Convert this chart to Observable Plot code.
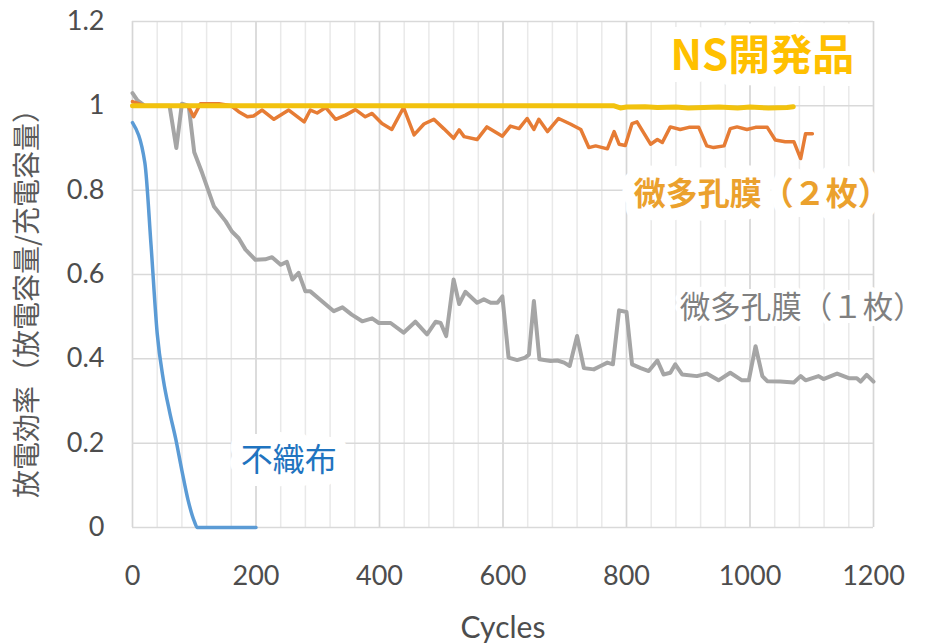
<!DOCTYPE html>
<html><head><meta charset="utf-8">
<script src="https://cdn.jsdelivr.net/npm/d3@7"></script>
<script src="https://cdn.jsdelivr.net/npm/@observablehq/plot@0.6"></script>
<style>body{margin:0;background:#fff}</style>
</head><body><div id="chart"></div>
<script>
// ---- data ----
const xTicks = [0, 200, 400, 600, 800, 1000, 1200];
const xMinorGrid = [0, 40, 80, 120, 160, 200, 240, 280, 320, 360, 400, 440, 480, 520, 560, 600, 640, 680, 720, 760, 800, 840, 880, 920, 960, 1000, 1040, 1080, 1120, 1160, 1200];
const yTicks = [0, 0.2, 0.4, 0.6, 0.8, 1, 1.2];

// 不織布
const nonwovenCycles = [0, 20, 30, 40, 50, 60, 70, 80, 90, 100, 105, 120, 140, 160, 180, 200];
const nonwovenValues = [0.96, 0.865, 0.67, 0.46, 0.35, 0.275, 0.21, 0.135, 0.065, 0.015, 0, 0, 0, 0, 0, 0];

// 微多孔膜（１枚）
const singleCycles = [0, 8, 20, 40, 60, 71, 80, 91, 100, 113, 132, 151, 161, 172, 183, 199, 215, 226, 240, 250, 259, 269, 280, 288, 304, 326, 340, 355, 372, 388, 399, 418, 439, 458, 477, 491, 499, 508, 520, 529, 539, 558, 569, 580, 591, 599, 609, 623, 636, 642, 650, 659, 677, 688, 699, 708, 720, 731, 747, 758, 769, 778, 788, 800, 809, 823, 836, 850, 860, 871, 879, 890, 914, 930, 949, 968, 987, 998, 1009, 1020, 1028, 1049, 1071, 1082, 1090, 1111, 1119, 1141, 1160, 1173, 1179, 1189, 1200];
const singleValues = [1.03, 1.013, 1.0, 1.0, 1.0, 0.90, 1.005, 1.0, 0.89, 0.84, 0.761, 0.726, 0.702, 0.686, 0.659, 0.635, 0.636, 0.641, 0.623, 0.63, 0.588, 0.604, 0.56, 0.56, 0.54, 0.513, 0.522, 0.505, 0.489, 0.496, 0.485, 0.485, 0.462, 0.488, 0.458, 0.488, 0.485, 0.454, 0.588, 0.53, 0.559, 0.533, 0.541, 0.533, 0.533, 0.548, 0.403, 0.397, 0.403, 0.41, 0.537, 0.399, 0.395, 0.396, 0.391, 0.383, 0.454, 0.378, 0.375, 0.383, 0.391, 0.387, 0.515, 0.511, 0.387, 0.378, 0.371, 0.396, 0.363, 0.367, 0.387, 0.363, 0.359, 0.365, 0.349, 0.367, 0.349, 0.349, 0.43, 0.359, 0.347, 0.346, 0.344, 0.359, 0.349, 0.359, 0.352, 0.365, 0.354, 0.354, 0.346, 0.362, 0.346];

// 微多孔膜（２枚）
const doubleCycles = [0, 10, 20, 40, 60, 80, 90, 99, 110, 140, 160, 172, 186, 196, 210, 229, 253, 278, 288, 299, 313, 329, 345, 361, 377, 388, 404, 420, 439, 456, 472, 488, 504, 520, 529, 537, 558, 574, 599, 612, 626, 639, 650, 658, 672, 690, 709, 726, 739, 750, 769, 780, 788, 798, 809, 817, 839, 850, 858, 871, 887, 901, 917, 930, 941, 958, 968, 979, 995, 1009, 1028, 1041, 1057, 1071, 1082, 1090, 1101];
const doubleValues = [1.01, 1.005, 1.0, 1.0, 1.0, 1.0, 1.0, 0.974, 1.005, 1.005, 1.0, 0.986, 0.974, 0.976, 0.99, 0.968, 0.99, 0.962, 0.99, 0.983, 0.996, 0.968, 0.978, 0.991, 0.974, 0.982, 0.958, 0.944, 0.996, 0.931, 0.957, 0.968, 0.946, 0.923, 0.943, 0.927, 0.92, 0.95, 0.928, 0.952, 0.946, 0.97, 0.944, 0.968, 0.939, 0.97, 0.957, 0.944, 0.901, 0.905, 0.898, 0.939, 0.909, 0.906, 0.958, 0.962, 0.909, 0.92, 0.913, 0.95, 0.944, 0.949, 0.949, 0.905, 0.901, 0.905, 0.946, 0.95, 0.944, 0.949, 0.949, 0.919, 0.915, 0.915, 0.875, 0.934, 0.934];

// NS開発品
const nsCycles = [0, 100, 200, 300, 400, 500, 600, 700, 780, 790, 800, 830, 850, 880, 900, 950, 980, 1000, 1030, 1060, 1070];
const nsValues = [1.0, 1.0, 1.0, 1.0, 1.0, 1.0, 1.0, 1.0, 1.0, 0.995, 0.997, 0.998, 0.996, 0.997, 0.995, 0.997, 0.995, 0.997, 0.995, 0.996, 0.998];

// annotation labels (data coordinates)
const labelTexts = ["NS開発品", "微多孔膜（２枚）", "微多孔膜（１枚）", "不織布"];
const labelCycles = [1020, 1019, 1084, 253];
const labelValues = [1.116, 0.79, 0.52, 0.158];
const labelColors = ["#ffc000", "#eba12d", "#808080", "#1f74c0"];

// ---- build tables ----
const zip = (xs, ys) => xs.map((x, i) => ({cycle: x, value: ys[i]}));
const nonwoven = zip(nonwovenCycles, nonwovenValues);
const single = zip(singleCycles, singleValues);
const double = zip(doubleCycles, doubleValues);
const ns = zip(nsCycles, nsValues);
const labels = labelTexts.map((t, i) => ({text: t, cycle: labelCycles[i], value: labelValues[i], color: labelColors[i]}));

const tickFont = "Lato, 'Open Sans', sans-serif";
const cjk = "'Noto Sans CJK JP', sans-serif";
const halo = {stroke: "white", strokeWidth: 24, strokeLinejoin: "round", fontFamily: cjk};

const chart = Plot.plot({
  width: 925,
  height: 644,
  marginLeft: 132,
  marginRight: 52,
  marginTop: 21,
  marginBottom: 117,
  style: {background: "white", fontFamily: tickFont},
  x: {domain: [0, 1200], axis: null},
  y: {domain: [0, 1.2], axis: null},
  marks: [
    Plot.gridX(xMinorGrid, {stroke: "#e9e9e9", strokeOpacity: 1, strokeWidth: 1.5}),
    Plot.gridX(xTicks, {stroke: "#d6d6d6", strokeOpacity: 1, strokeWidth: 1.5}),
    Plot.gridY(yTicks, {stroke: "#d9d9d9", strokeOpacity: 1, strokeWidth: 1.5}),
    Plot.line(single, {x: "cycle", y: "value", stroke: "#a5a5a5", strokeWidth: 4}),
    Plot.line(nonwoven, {x: "cycle", y: "value", stroke: "#5b9bd5", strokeWidth: 3.5, curve: "monotone-x"}),
    Plot.line(double, {x: "cycle", y: "value", stroke: "#e67c35", strokeWidth: 3.5}),
    Plot.line(ns, {x: "cycle", y: "value", stroke: "#f2c20e", strokeWidth: 5}),
    Plot.axisX(xTicks, {tickSize: 0, tickPadding: 38, fontSize: 27, fill: "#4d4d4d", fontFamily: tickFont, label: null, tickFormat: d => String(d)}),
    Plot.axisY(yTicks, {tickSize: 0, tickPadding: 28, fontSize: 27, fill: "#4d4d4d", fontFamily: tickFont, label: null, tickFormat: d => String(d)}),
    Plot.text(["Cycles"], {frameAnchor: "bottom", lineAnchor: "middle", dy: 101, fontSize: 30, fill: "#4d4d4d", fontFamily: tickFont}),
    Plot.text(["放電効率（放電容量/充電容量）"], {frameAnchor: "left", textAnchor: "middle", lineAnchor: "middle", dx: -104, dy: 22, rotate: -90, fontSize: 28, fill: "#595959", fontFamily: cjk}),
    Plot.text([labels[0]], {x: "cycle", y: "value", text: "text", fill: "color", fontSize: 42, fontWeight: "bold", ...halo}),
    Plot.text([labels[1]], {x: "cycle", y: "value", text: "text", fill: "color", fontSize: 32, fontWeight: "bold", ...halo}),
    Plot.text([labels[2]], {x: "cycle", y: "value", text: "text", fill: "color", fontSize: 30.5, ...halo, strokeWidth: 10}),
    Plot.text([labels[3]], {x: "cycle", y: "value", text: "text", fill: "color", fontSize: 32, ...halo})
  ]
});
document.getElementById("chart").append(chart);
</script>
</body></html>
